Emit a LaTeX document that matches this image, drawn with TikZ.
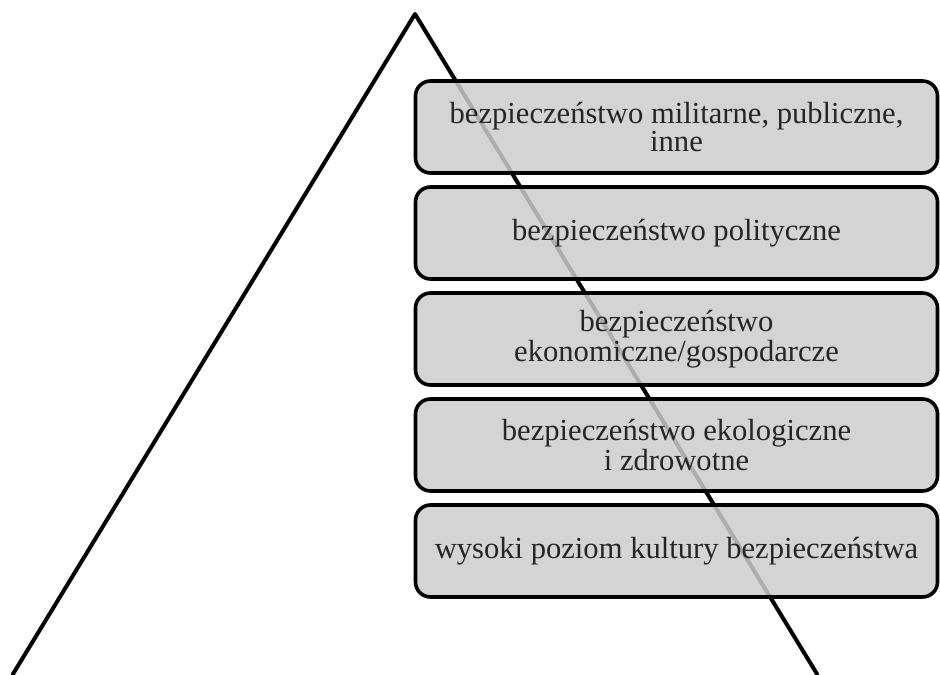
\documentclass[tikz,border=0pt]{standalone}
\usepackage{fontspec}
\setmainfont{Liberation Serif}
\usepackage{tikz}
\usetikzlibrary{positioning}

\begin{document}
\begin{tikzpicture}[line cap=round,line join=round,x=0.5pt,y=0.5pt,
  level/.style={draw,line width=1.8pt,rounded corners=7.5pt,fill=black!20,fill opacity=0.85,text opacity=1,
    text=black!85,minimum width=261pt,minimum height=46pt,align=center,inner sep=2pt,
    font=\fontsize{15.3pt}{13.3pt}\selectfont}]
\useasboundingbox (0,0) rectangle (940,674);
\clip (0,0) rectangle (940,674);
\coordinate (apex) at (415,660);
\coordinate (baseL) at (13,0);
\coordinate (baseR) at (817,0);
\draw [line width=2pt] (baseL)-- (apex)-- (baseR);
\node[level] (mil) at (676.5,547) {bezpieczeństwo militarne, publiczne,\\inne};
\node[level,below=5.2pt of mil] (pol) {bezpieczeństwo polityczne};
\node[level,below=5.2pt of pol] (eko) {bezpieczeństwo\\ekonomiczne/gospodarcze};
\node[level,below=5.2pt of eko] (zdr) {bezpieczeństwo ekologiczne\\i zdrowotne};
\node[level,below=5.2pt of zdr] (kult) {wysoki poziom kultury bezpieczeństwa};
\end{tikzpicture}
\end{document}
